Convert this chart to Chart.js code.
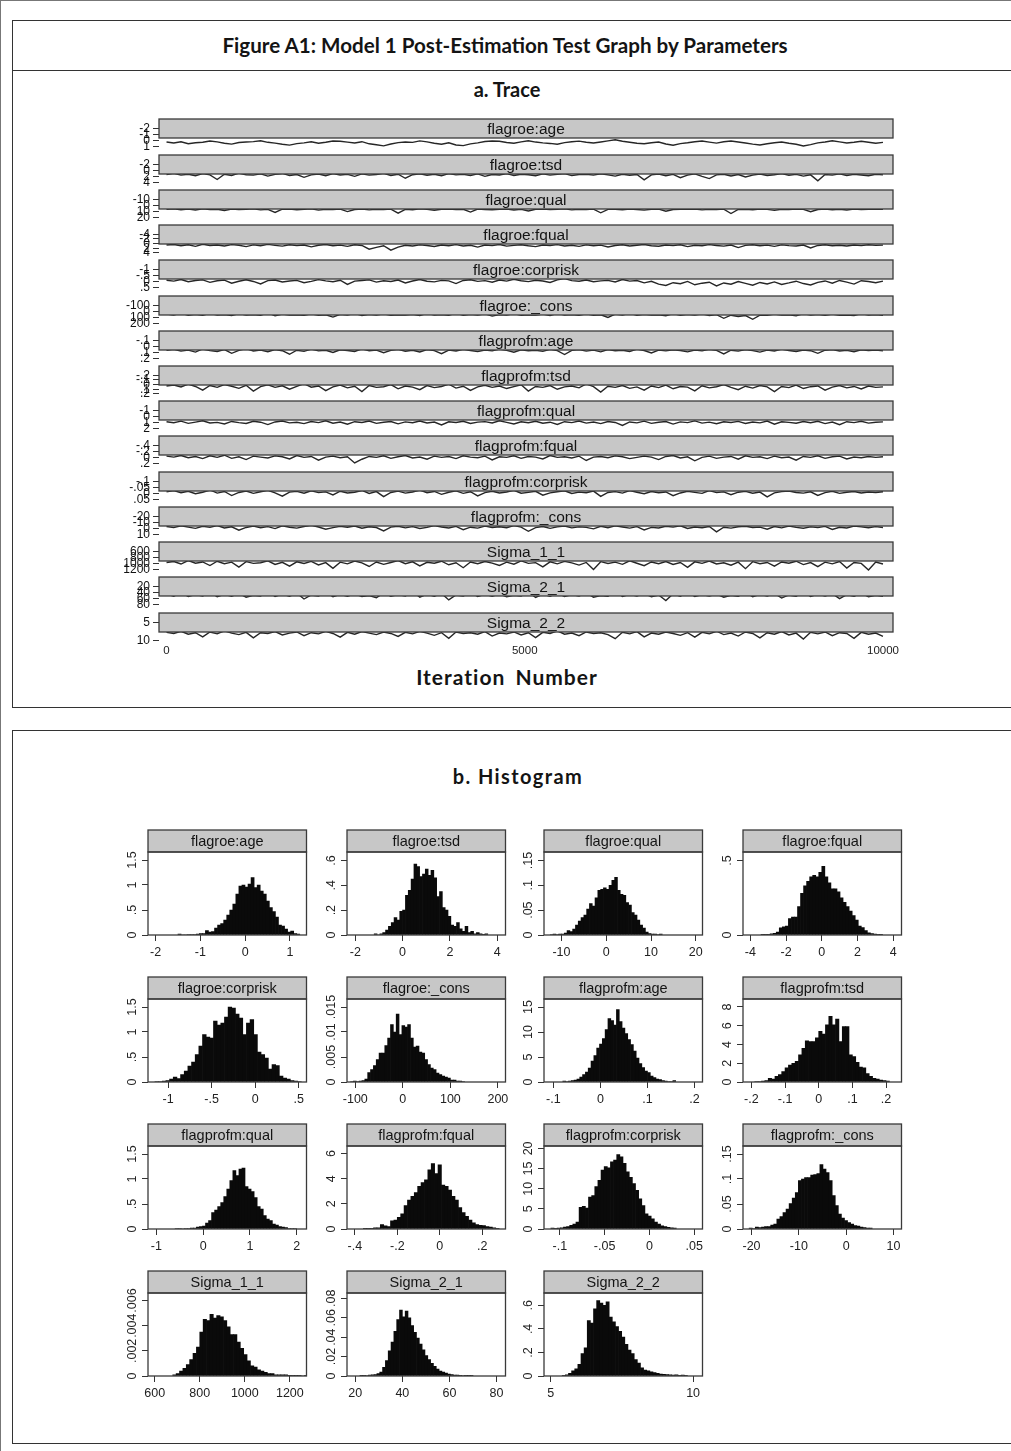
<!DOCTYPE html>
<html>
<head>
<meta charset="utf-8">
<script src="https://cdn.jsdelivr.net/npm/chart.js@4.4.0/dist/chart.umd.min.js"></script>
<style>
  body { margin: 0; background: #fff; width: 1011px; height: 1451px; position: relative; overflow: hidden; }
  canvas { position: absolute; }
  .box { position: absolute; border: 1.5px solid #333; border-right: none; box-sizing: border-box; }
  .rule { position: absolute; border-top: 1.5px solid #333; }
  .t { position: absolute; left: 0; width: 1010px; text-align: center; font-family: Lato, "Open Sans", sans-serif; font-weight: 700; color: #141414; line-height: 1; white-space: nowrap; }
</style>
</head>
<body>
<div class="box" style="left:0;top:0;width:1011px;height:1451px;border-width:1px;border-bottom:none;border-color:#777"></div>
<div class="box" style="left:12px;top:20px;width:1000px;height:688px"></div>
<div class="rule" style="left:12px;top:70px;width:1000px"></div>
<div class="box" style="left:12px;top:730px;width:1000px;height:714px"></div>
<div class="t" style="top:35px;font-size:20.6px">Figure A1: Model 1 Post-Estimation Test Graph by Parameters</div>
<div class="t" style="top:79px;font-size:20px;left:2px">a. Trace</div>
<div class="t" style="top:666px;font-size:21px;left:2px;letter-spacing:1px;word-spacing:4px">Iteration Number</div>
<div class="t" style="top:766px;font-size:20px;left:13px;letter-spacing:1.4px">b. Histogram</div>
<script>
// parameter names, same order in both panels
const paramNames = ['flagroe:age', 'flagroe:tsd', 'flagroe:qual', 'flagroe:fqual', 'flagroe:corprisk', 'flagroe:_cons',
  'flagprofm:age', 'flagprofm:tsd', 'flagprofm:qual', 'flagprofm:fqual', 'flagprofm:corprisk', 'flagprofm:_cons',
  'Sigma_1_1', 'Sigma_2_1', 'Sigma_2_2'];

// ---- trace panel: thinned draws (part of each chain sits behind the strip header) ----
const traceFlagroeAge = [0.21,0.38,0.17,0.49,0.33,0.24,0.06,0.19,0.41,0.55,0.3,0.22,0.15,0.02,0.26,0.39,0.58,0.71,0.47,0.35,0.18,0.4,0.25,0.05,0.09,0.23,0.37,0.16,0.5,0.66,0.83,0.54,0.31,0.2,0.27,0.03,0.18,0.42,0.57,0.33,0.69,0.8,0.52,0.36,0.14,0.04,0.1,0.28,0.4,0.19,0.0,0.22,0.35,0.44,0.56,0.31,0.17,0.07,0.24,0.38,0.2,0.03,-0.15,0.08,0.25,0.42,0.5,0.33,0.21,0.53,0.72,0.48,0.34,0.16,0.05,0.23,0.39,0.18,0.06,0.21,0.37,0.55,0.7,0.49,0.32,0.2,0.41,0.58,0.86,0.64,0.35,0.22,0.02,0.19,0.37,0.26,0.08,0.24,0.4,0.27];
const traceFlagroeTsd = [1.3,0.9,1.5,1.2,1.7,1.0,1.4,2.9,1.2,1.6,0.8,1.35,1.5,1.1,1.8,1.25,0.95,1.6,1.3,2.2,1.4,1.15,1.7,1.0,1.45,1.25,1.9,1.1,1.5,1.3,0.9,1.6,1.2,2.5,1.35,1.05,1.55,1.2,1.7,1.0,1.4,1.25,1.6,1.1,1.9,1.3,1.45,1.0,1.6,1.2,1.35,1.7,1.1,1.5,1.25,1.0,1.65,1.3,1.2,1.5,1.05,1.4,1.8,1.2,1.55,1.3,3.0,1.4,1.15,1.7,1.25,2.3,1.5,1.1,1.9,2.6,1.4,1.2,1.75,1.3,2.1,1.5,1.15,1.6,1.35,1.0,1.55,1.25,1.8,1.4,3.3,1.3,1.5,1.1,1.6,1.25,1.45,1.7,1.2,1.4];
const traceFlagroeQual = [6.2,5.2,6.8,5.9,7.3,5.5,6.4,6.0,8.1,5.8,6.6,6.1,5.4,7.0,6.3,11.2,6.0,5.7,6.9,6.2,5.3,7.5,6.1,6.6,5.9,9.8,6.4,5.6,7.1,6.0,6.5,5.8,12.4,6.2,6.8,5.5,6.3,7.6,6.0,5.9,6.7,6.1,10.6,5.7,6.4,6.9,6.0,5.6,7.2,6.3,8.8,6.0,5.8,6.6,6.2,5.4,7.0,6.1,6.5,5.9,11.8,6.3,6.0,6.8,5.7,6.4,7.4,6.1,5.8,9.2,6.5,6.0,6.3,5.6,7.1,6.2,6.7,5.9,13.0,6.4,6.0,6.9,5.8,6.3,7.8,6.1,6.6,5.7,6.2,10.1,6.4,5.9,6.8,6.0,7.2,5.8,6.5,6.2,6.0,6.3];
const traceFlagroeFqual = [0.6,0.4,0.9,0.5,1.2,0.3,0.8,0.6,1.0,0.45,0.7,1.3,0.55,0.9,0.35,0.75,1.1,0.5,0.85,0.6,1.4,0.7,0.4,0.95,0.65,1.2,0.5,0.8,2.4,1.6,0.9,2.8,1.5,0.7,1.0,0.55,0.8,1.25,0.6,0.9,0.45,1.05,0.7,1.5,0.6,0.85,0.4,1.1,0.75,0.5,0.95,1.3,0.6,0.8,0.45,1.0,0.7,1.2,0.55,0.9,0.65,1.45,0.8,0.5,1.0,0.7,0.4,0.9,1.15,0.6,0.85,0.5,1.3,0.7,0.95,0.45,0.8,1.1,0.6,1.7,0.75,0.5,0.9,0.65,1.2,0.55,0.85,1.0,0.6,1.9,0.8,0.5,0.95,0.7,1.05,0.6,0.85,0.5,0.75,0.65];
const traceFlagroeCorprisk = [-0.12,-0.05,-0.18,0.0,-0.1,-0.15,0.05,-0.08,-0.13,0.12,-0.04,-0.16,-0.02,0.18,-0.09,-0.14,0.02,-0.06,-0.11,0.08,-0.03,-0.17,-0.07,0.0,-0.12,0.22,-0.05,-0.1,-0.15,0.03,-0.08,-0.02,-0.13,0.1,-0.06,-0.18,-0.04,0.01,-0.11,-0.07,0.15,-0.1,-0.16,-0.03,-0.09,0.04,-0.13,-0.05,-0.2,-0.08,-0.01,-0.12,-0.06,0.06,-0.15,-0.25,-0.09,-0.04,-0.14,0.0,-0.07,-0.11,0.02,-0.17,-0.05,-0.1,0.09,-0.03,0.2,0.3,0.08,0.16,-0.02,0.25,0.12,0.04,0.34,0.1,0.2,-0.01,0.14,0.28,0.06,0.18,0.02,0.22,0.1,-0.04,0.15,0.26,0.05,-0.06,0.12,-0.1,0.03,0.19,-0.08,-0.02,0.08,-0.05];
const traceFlagroeCons = [40,58,25,62,45,60,30,59,50,66,35,57,48,61,20,70,42,58,55,63,38,60,52,90,45,59,28,64,47,57,36,61,53,58,44,67,31,59,49,62,26,60,46,58,39,74,50,57,33,61,55,59,41,66,29,58,48,63,37,60,52,95,43,57,30,62,47,59,55,68,34,60,45,58,38,64,51,110,60,80,66,125,58,62,40,59,53,71,35,58,47,61,42,60,56,65,32,59,50,62];
const traceFlagprofmAge = [0.06,0.045,0.075,0.058,0.09,0.04,0.066,0.08,0.05,0.11,0.062,0.035,0.072,0.059,0.085,0.048,0.068,0.125,0.06,0.078,0.042,0.07,0.061,0.095,0.052,0.065,0.08,0.038,0.069,0.058,0.1,0.063,0.047,0.077,0.06,0.088,0.05,0.067,0.115,0.059,0.073,0.044,0.064,0.082,0.057,0.07,0.04,0.063,0.092,0.055,0.068,0.06,0.078,0.045,0.066,0.13,0.062,0.05,0.074,0.059,0.087,0.048,0.069,0.061,0.08,0.043,0.065,0.105,0.058,0.071,0.052,0.064,0.086,0.057,0.07,0.046,0.062,0.12,0.06,0.075,0.05,0.066,0.09,0.058,0.072,0.041,0.064,0.081,0.056,0.068,0.11,0.06,0.049,0.073,0.062,0.085,0.053,0.067,0.059,0.07];
const traceFlagprofmTsd = [0.03,0.01,0.05,-0.01,0.04,0.12,0.02,0.06,0.0,0.035,0.08,0.015,0.14,0.045,0.005,0.06,0.025,0.1,0.04,-0.02,0.055,0.03,0.13,0.05,0.01,0.07,0.035,0.15,0.02,0.06,0.045,0.0,0.09,0.03,0.055,0.11,0.02,0.065,0.04,-0.01,0.075,0.035,0.125,0.05,0.015,0.06,0.03,0.085,0.045,0.005,0.14,0.04,0.06,0.02,0.1,0.05,0.03,0.07,-0.015,0.045,0.16,0.035,0.06,0.02,0.08,0.05,0.12,0.03,0.065,0.01,0.09,0.04,0.055,0.135,0.025,0.07,0.045,0.0,0.06,0.11,0.035,0.075,0.02,0.05,0.15,0.04,0.065,0.01,0.085,0.045,0.03,0.12,0.055,0.02,0.07,0.04,0.095,0.03,0.06,0.05];
const traceFlagprofmQual = [0.85,1.0,0.75,1.1,0.9,0.7,1.05,0.95,1.2,0.8,0.98,1.12,0.76,0.92,1.3,0.88,0.72,1.02,0.94,1.15,0.82,0.99,0.7,1.08,0.9,1.25,0.84,0.96,0.74,1.1,0.93,0.8,1.18,0.87,1.0,0.72,1.05,0.9,1.35,0.85,0.97,0.78,1.12,0.91,0.83,1.04,0.68,0.95,1.2,0.86,1.0,0.77,1.09,0.92,1.28,0.84,0.98,0.73,1.06,0.9,1.15,0.8,0.96,1.45,0.88,1.02,0.75,1.1,0.93,0.82,1.22,0.87,0.99,0.71,1.07,0.91,1.17,0.85,0.97,0.79,1.13,0.89,1.03,0.74,1.24,0.86,0.95,1.08,0.81,1.0,0.76,1.15,0.9,1.32,0.84,0.98,0.78,1.06,0.92,0.87];
const traceFlagprofmFqual = [-0.05,-0.02,-0.07,0.0,-0.04,0.03,-0.06,-0.01,-0.08,0.02,-0.03,0.06,-0.05,-0.02,0.01,-0.06,-0.03,0.04,-0.07,-0.01,-0.04,0.08,-0.02,-0.05,0.0,-0.03,0.17,0.05,-0.04,-0.01,-0.06,0.02,-0.03,-0.07,0.01,-0.02,0.05,-0.05,-0.01,-0.04,0.03,-0.06,-0.02,0.0,-0.05,0.07,-0.03,-0.01,-0.06,0.02,-0.04,-0.02,0.04,-0.07,-0.01,-0.03,0.01,-0.05,0.09,-0.02,-0.04,0.0,-0.06,-0.03,0.03,-0.01,-0.05,-0.02,0.06,-0.04,-0.07,0.01,-0.03,0.1,-0.01,-0.05,0.02,-0.02,-0.04,0.05,-0.06,-0.01,-0.03,0.03,-0.05,0.0,-0.02,0.08,-0.04,-0.01,-0.06,0.02,-0.03,-0.05,0.04,-0.02,0.0,-0.04,-0.01,-0.03];
const traceFlagprofmCorprisk = [-0.015,-0.025,-0.008,-0.02,0.0,-0.012,-0.03,-0.005,-0.018,0.015,-0.01,-0.022,-0.003,-0.016,-0.028,-0.007,0.02,-0.013,-0.019,-0.004,-0.024,-0.009,-0.015,0.01,-0.02,-0.006,-0.012,-0.026,-0.002,-0.017,0.024,-0.01,-0.021,-0.005,-0.014,-0.03,-0.008,-0.018,0.005,-0.012,-0.023,-0.003,-0.016,0.018,-0.009,-0.02,-0.006,-0.014,-0.027,-0.004,-0.011,-0.019,0.012,-0.007,-0.016,-0.024,-0.002,-0.013,-0.008,-0.021,0.022,-0.01,-0.017,-0.005,-0.025,-0.012,0.0,-0.018,-0.008,-0.014,0.016,-0.006,-0.02,-0.011,-0.003,-0.026,-0.009,-0.015,0.008,-0.012,-0.019,-0.004,-0.013,0.026,-0.007,-0.017,-0.022,-0.01,-0.005,-0.015,0.014,-0.009,-0.02,-0.003,-0.012,-0.018,-0.006,-0.014,-0.01,-0.016];
const traceFlagprofmCons = [-3.5,-1.8,-4.8,-2.6,-0.5,-3.9,-2.2,-5.2,-1.2,-3.0,2.5,-2.0,-4.1,-1.5,-3.3,-0.2,-4.6,-2.4,-1.0,-3.6,-5.5,-2.8,0.8,-1.7,-3.8,-2.3,-4.4,-0.8,-3.1,-1.9,3.5,-2.6,-4.0,-1.3,-3.4,-0.4,-2.1,-4.9,-2.7,-1.1,-3.7,1.6,-2.4,-0.9,-4.2,-2.0,-3.2,-1.5,-5.0,-2.5,4.2,-1.8,-3.6,-0.6,-2.9,-4.3,-1.4,-3.0,-2.2,0.3,-3.8,-1.6,-4.5,-2.7,-0.9,-3.3,2.0,-2.1,-1.2,-3.9,-2.5,-4.7,-0.3,-2.8,-1.6,-3.5,5.0,-2.3,-1.0,-3.1,-4.0,-1.9,-2.6,0.9,-3.4,-1.3,-4.4,-2.2,-0.7,-3.0,-1.7,-3.7,1.2,-2.4,-1.1,-4.1,-2.9,-1.5,-3.3,-2.0];
const traceSigma11 = [960,930,1010,900,985,945,1060,920,1000,950,1110,935,990,970,905,1025,955,1080,940,995,925,1040,965,1150,950,1005,915,975,1090,945,1020,960,900,1000,940,1070,955,985,920,1035,970,1130,945,1000,930,980,1055,950,1015,910,990,965,1100,940,1005,925,975,1045,960,1185,935,995,950,1020,905,985,1065,945,1000,930,1025,960,1120,940,990,915,1010,970,1050,950,1160,935,1000,960,1080,945,985,920,1030,965,1095,950,1005,930,1140,960,990,1200,945,1010];
const traceSigma21 = [44,52,40,53,47,51,38,54,46,52,43,55,49,51,36,53,45,52,42,61,48,51,39,54,46,52,44,53,50,57,41,52,47,51,37,55,45,52,43,64,48,51,40,53,46,52,44,54,49,51,38,56,45,52,42,53,47,51,41,55,50,52,36,53,46,51,43,54,48,66,44,52,39,53,47,51,45,55,49,52,40,54,46,51,43,58,48,52,37,53,45,51,44,60,47,52,42,54,49,52];
const traceSigma22 = [7.7,8.0,7.4,8.2,7.8,8.9,7.6,8.1,7.3,7.9,8.3,7.7,9.2,7.8,8.0,7.5,8.4,7.9,7.6,8.6,7.8,8.1,7.4,8.0,9.0,7.7,8.2,7.5,7.9,8.3,7.6,8.0,8.8,7.7,8.1,7.4,7.9,8.5,7.8,9.3,7.6,8.0,7.8,8.2,7.5,8.7,7.9,8.1,7.6,8.4,7.8,9.1,7.7,8.0,7.3,8.2,7.9,8.6,7.6,8.0,7.8,8.3,9.4,7.7,8.1,7.5,8.9,7.9,8.2,7.6,8.0,8.5,7.8,9.0,7.7,8.1,7.4,8.3,7.9,8.7,7.6,8.0,9.2,7.8,8.2,7.5,8.4,7.9,9.5,7.7,8.1,7.6,8.6,7.8,8.0,9.3,7.7,8.2,7.9,8.8];
const traceSeries = [traceFlagroeAge, traceFlagroeTsd, traceFlagroeQual, traceFlagroeFqual, traceFlagroeCorprisk, traceFlagroeCons,
  traceFlagprofmAge, traceFlagprofmTsd, traceFlagprofmQual, traceFlagprofmFqual, traceFlagprofmCorprisk, traceFlagprofmCons,
  traceSigma11, traceSigma21, traceSigma22];
const traceTicks = [[-2,-1,0,1], [-2,0,2,4], [-10,0,10,20], [-4,-2,0,2,4], [-1,-0.5,0,0.5], [-100,0,100,200],
  [-0.1,0,0.1,0.2], [-0.2,-0.1,0,0.1,0.2], [-1,0,1,2], [-0.4,-0.2,0,0.2], [-0.1,-0.05,0,0.05], [-20,-10,0,10],
  [600,800,1000,1200], [20,40,60,80], [5,10]];
const traceIterations = 10000;
const traceXTicks = [0, 5000, 10000];

// ---- histogram panel: bin start, bin width, densities ----
const histStart = [-1.5, -1.2, -12.5, -3.4, -1.15, -110, -0.08, -0.19, -0.6, -0.36, -0.11, -20.5, 680, 22, 5.4];
const histWidth = [0.068, 0.12, 0.625, 0.17, 0.042, 6, 0.006, 0.01, 0.065, 0.016, 0.0035, 0.65, 15, 1.2, 0.11];
const densFlagroeAge = [0.02,0,0,0.01,0.01,0.01,0.02,0.03,0.03,0.09,0.06,0.07,0.14,0.2,0.23,0.3,0.4,0.5,0.62,0.82,0.98,1.0,0.96,1.02,1.15,0.95,1.0,0.88,0.82,0.68,0.55,0.47,0.36,0.2,0.18,0.12,0.06,0.08,0.03,0.02];
const densFlagroeTsd = [0.01,0,0.01,0.02,0.04,0.07,0.1,0.14,0.12,0.19,0.2,0.32,0.36,0.45,0.57,0.55,0.47,0.49,0.53,0.48,0.52,0.46,0.31,0.35,0.22,0.2,0.15,0.08,0.07,0.1,0.05,0.03,0.07,0.02,0.03,0.01,0.02,0.01,0.005,0.01];
const densFlagroeQual = [0.001,0.002,0.001,0.002,0.002,0.004,0.009,0.007,0.012,0.02,0.028,0.035,0.04,0.052,0.063,0.058,0.075,0.09,0.092,0.095,0.092,0.1,0.11,0.116,0.09,0.082,0.08,0.065,0.06,0.045,0.04,0.03,0.02,0.014,0.006,0.003,0.002,0.002,0.001,0.002];
const densFlagroeFqual = [0.003,0.005,0.003,0.008,0.012,0.02,0.048,0.055,0.06,0.11,0.12,0.12,0.19,0.28,0.33,0.36,0.39,0.4,0.39,0.42,0.46,0.39,0.35,0.31,0.31,0.29,0.25,0.22,0.19,0.16,0.13,0.1,0.06,0.05,0.03,0.015,0.01,0.006,0.004,0.003];
const densFlagroeCorprisk = [0.01,0.01,0.02,0.03,0.06,0.1,0.07,0.15,0.22,0.32,0.4,0.55,0.72,0.95,0.9,0.88,1.22,1.14,1.18,1.3,1.5,1.48,1.36,1.28,0.95,1.18,1.25,0.95,0.6,0.55,0.48,0.26,0.35,0.33,0.12,0.08,0.06,0.03,0.02,0.01];
const densFlagroeCons = [0.0001,0.0002,0.0001,0.0002,0.0003,0.0006,0.0019,0.0025,0.0033,0.0045,0.0058,0.0058,0.0073,0.0088,0.0115,0.01,0.0136,0.0095,0.0113,0.011,0.0115,0.0088,0.007,0.0072,0.006,0.0058,0.0045,0.0035,0.0028,0.0025,0.0018,0.0015,0.0012,0.001,0.0008,0.0004,0.0004,0.0002,0.0002,0.0001];
const densFlagprofmAge = [0.2,0.1,0.2,0.3,0.4,0.6,1.0,1.5,2.0,2.8,4.2,5.3,6.8,7.6,8.7,10.5,12.7,12.3,11.4,14.5,12.1,10.8,9.7,8.5,7.5,6.2,4.8,3.7,2.9,2.2,1.9,1.2,0.9,0.6,0.5,0.3,0.2,0.1,0.1,0.3];
const densFlagprofmTsd = [0.05,0.05,0.1,0.15,0.4,0.3,0.6,0.8,1.1,1.5,1.8,2.0,2.2,2.9,3.6,4.4,4.3,4.3,4.7,5.4,5.1,6.1,7.0,6.1,6.7,4.3,5.9,5.9,2.9,2.7,2.1,1.6,1.5,0.9,0.6,0.4,0.3,0.2,0.15,0.1];
const densFlagprofmQual = [0.01,0.01,0,0.01,0.01,0.02,0.02,0.04,0.05,0.06,0.12,0.17,0.33,0.38,0.45,0.53,0.65,0.8,0.97,1.17,1.07,1.2,1.22,0.85,0.8,0.75,0.63,0.45,0.4,0.27,0.2,0.17,0.1,0.08,0.05,0.04,0.03,0.01,0.01,0.01];
const densFlagprofmFqual = [0.03,0.03,0.05,0.1,0.1,0.35,0.25,0.2,0.65,0.7,0.93,1.2,1.87,2.3,2.6,2.9,3.4,3.7,3.9,4.7,5.2,4.4,5.1,3.5,3.4,3.1,2.6,2.3,1.7,1.3,1.0,0.7,0.5,0.35,0.3,0.27,0.2,0.15,0.1,0.05];
const densFlagprofmCorprisk = [0.2,0.1,0.2,0.3,0.5,0.6,0.9,1.2,1.7,5.4,5.6,5.2,7.9,8.3,10.5,12.1,14.6,15.5,15.2,16.7,17.1,18.5,17.9,16.3,14.2,12.8,11.3,9.6,7.5,5.8,3.75,3.2,2.5,1.7,1.2,0.8,0.6,0.4,0.3,0.2];
const densFlagprofmCons = [0.002,0.001,0.004,0.003,0.004,0.005,0.005,0.008,0.01,0.02,0.025,0.033,0.04,0.051,0.062,0.073,0.097,0.1,0.103,0.103,0.108,0.109,0.111,0.129,0.12,0.113,0.097,0.067,0.047,0.03,0.022,0.017,0.013,0.01,0.007,0.006,0.004,0.003,0.002,0.002];
const densSigma11 = [0.0001,0.0002,0.0004,0.0006,0.0009,0.0013,0.0018,0.0023,0.0035,0.0045,0.0044,0.0049,0.0046,0.0048,0.0047,0.0044,0.0039,0.0033,0.0033,0.0027,0.0022,0.0017,0.0012,0.0008,0.0007,0.0005,0.0004,0.0003,0.0002,0.0002,0.0001,0.0001,0.0001,0.0001,0.00005,0.00005,0.00005,0.00005,0,0.00005];
const densSigma21 = [0.0003,0.0002,0.0005,0.001,0.0012,0.0015,0.0025,0.004,0.009,0.016,0.026,0.035,0.046,0.058,0.068,0.061,0.067,0.06,0.052,0.045,0.039,0.033,0.027,0.021,0.017,0.013,0.01,0.007,0.005,0.004,0.003,0.002,0.0015,0.001,0.001,0.0008,0.0005,0.0004,0.0003,0.0002];
const densSigma22 = [0.005,0.01,0.023,0.043,0.06,0.1,0.19,0.24,0.47,0.45,0.57,0.64,0.62,0.6,0.63,0.5,0.46,0.42,0.38,0.33,0.27,0.22,0.19,0.14,0.11,0.07,0.05,0.043,0.035,0.03,0.022,0.017,0.015,0.012,0.01,0.008,0.01,0.006,0.008,0.005];
const histDensity = [densFlagroeAge, densFlagroeTsd, densFlagroeQual, densFlagroeFqual, densFlagroeCorprisk, densFlagroeCons,
  densFlagprofmAge, densFlagprofmTsd, densFlagprofmQual, densFlagprofmFqual, densFlagprofmCorprisk, densFlagprofmCons,
  densSigma11, densSigma21, densSigma22];
const histXMin = [-2.17, -2.35, -13.9, -4.41, -1.23, -117.5, -0.12, -0.225, -1.18, -0.437, -0.1177, -21.8, 570, 16.5, 4.76];
const histXMax = [1.37, 4.35, 21.5, 4.46, 0.59, 216, 0.217, 0.246, 2.21, 0.31, 0.0593, 11.7, 1274, 83.8, 10.33];
const histYMax = [1.66, 0.668, 0.167, 0.557, 1.66, 0.0166, 16.6, 8.85, 1.66, 6.6, 20.6, 0.166, 0.0066, 0.0855, 0.705];
const histXTicks = [[-2,-1,0,1], [-2,0,2,4], [-10,0,10,20], [-4,-2,0,2,4], [-1,-0.5,0,0.5], [-100,0,100,200],
  [-0.1,0,0.1,0.2], [-0.2,-0.1,0,0.1,0.2], [-1,0,1,2], [-0.4,-0.2,0,0.2], [-0.1,-0.05,0,0.05], [-20,-10,0,10],
  [600,800,1000,1200], [20,40,60,80], [5,10]];
const histYTicks = [[0,0.5,1,1.5], [0,0.2,0.4,0.6], [0,0.05,0.1,0.15], [0,0.5], [0,0.5,1,1.5], [0,0.005,0.01,0.015],
  [0,5,10,15], [0,2,4,6,8], [0,0.5,1,1.5], [0,2,4,6], [0,5,10,15,20], [0,0.05,0.1,0.15],
  [0,0.002,0.004,0.006], [0,0.02,0.04,0.06,0.08], [0,0.2,0.4,0.6]];

// layout
const traceTop0 = 119.3, tracePitch = 35.24;
const colLefts = [148, 347, 544, 743];
const rowTops = [830, 977, 1124, 1271];
const labelFont = '"Liberation Sans", Arial, Helvetica, sans-serif';

Chart.defaults.font.family = labelFont;
Chart.defaults.color = '#222';
Chart.defaults.animation = false;

// Stata style: .5 instead of 0.5
const fmtTick = v => String(v).replace(/^(-?)0\./, '$1.');

// keep axis boxes at a fixed size and stop label overhang from shrinking the plot
const fixSize = (w, h) => s => {
    if (w !== null) s.width = w;
    if (h !== null) s.height = h;
    s.paddingTop = 0; s.paddingBottom = 0; s.paddingLeft = 0; s.paddingRight = 0;
};

function addCanvas(left, top, w, h) {
    const c = document.createElement('canvas');
    c.width = w; c.height = h;
    c.style.left = left + 'px'; c.style.top = top + 'px';
    c.style.width = w + 'px'; c.style.height = h + 'px';
    document.body.appendChild(c);
    return c;
}

// grey strip header, plot box and rotated y labels
const panelDecor = {
    id: 'panelDecor',
    afterDatasetsDraw(chart, args, opts) {
        const { ctx, chartArea: a } = chart;
        const w = a.right - a.left;
        const top = opts.trace ? a.top : a.top - opts.headerH;
        ctx.save();
        ctx.fillStyle = '#c7c7c7';
        ctx.fillRect(a.left, top, w, opts.headerH);
        ctx.strokeStyle = '#3a3a3a';
        ctx.lineWidth = 1.3;
        ctx.strokeRect(a.left, top, w, opts.headerH);
        if (!opts.trace) ctx.strokeRect(a.left, a.top, w, a.bottom - a.top);
        ctx.fillStyle = '#141414';
        ctx.font = opts.titleFont;
        ctx.textAlign = 'center';
        ctx.textBaseline = 'middle';
        ctx.fillText(opts.title, a.left + w / 2, top + opts.headerH / 2 + 1);
        if (opts.yTicks) {
            const ys = chart.scales.y;
            ctx.font = '12.5px ' + labelFont;
            ctx.fillStyle = '#222';
            opts.yTicks.forEach(v => {
                ctx.save();
                ctx.translate(a.left - 15, ys.getPixelForValue(v));
                ctx.rotate(-Math.PI / 2);
                ctx.fillText(fmtTick(v), 0, 0);
                ctx.restore();
            });
        }
        ctx.restore();
    }
};

function drawTrace(k) {
    const last = k === traceSeries.length - 1;
    const stripTop = Math.round(traceTop0 + k * tracePitch);
    const canvas = addCanvas(90, stripTop - 1, 816, last ? 50 : 37);
    const vals = traceSeries[k];
    const thin = traceIterations / (vals.length - 1);
    const ticks = traceTicks[k];
    const span = (ticks[ticks.length - 1] - ticks[0]) / 0.6;
    const yMin = ticks[0] - 0.3 * span;
    new Chart(canvas, {
        type: 'line',
        data: { datasets: [{ data: vals.map((v, i) => ({ x: i * thin, y: v })), borderColor: '#262626', borderWidth: 1.4, pointRadius: 0, tension: 0 }] },
        options: {
            responsive: false, animation: false,
            layout: { padding: { top: 1, right: 13, left: 0, bottom: last ? 0 : 5 } },
            plugins: { legend: { display: false }, tooltip: { enabled: false },
                panelDecor: { title: paramNames[k], headerH: 19, trace: true, titleFont: '15.5px ' + labelFont } },
            scales: {
                x: { type: 'linear', min: -105, max: 10140, display: last,
                    afterBuildTicks: s => { s.ticks = traceXTicks.map(v => ({ value: v })); },
                    afterFit: fixSize(null, last ? 18 : 0),
                    ticks: { callback: v => String(v), font: { size: 11.5 }, padding: 0, maxRotation: 0, autoSkip: false },
                    grid: { display: false, drawTicks: false }, border: { display: false } },
                y: { reverse: true, min: yMin, max: yMin + span,
                    afterBuildTicks: s => { s.ticks = ticks.map(v => ({ value: v })); },
                    afterFit: fixSize(69, null),
                    ticks: { callback: v => fmtTick(v), font: { size: 12 }, color: '#111', padding: 3, autoSkip: false },
                    grid: { drawOnChartArea: false, tickLength: 6, color: '#333' }, border: { display: false } }
            }
        },
        plugins: [panelDecor]
    });
}

function drawHistogram(k) {
    const col = k % 4, row = Math.floor(k / 4);
    const canvas = addCanvas(colLefts[col] - 40, rowTops[row] - 2, 202, 137);
    const pts = histDensity[k].map((d, i) => ({ x: histStart[k] + (i + 0.5) * histWidth[k], y: d }));
    new Chart(canvas, {
        type: 'bar',
        data: { datasets: [{ data: pts, backgroundColor: '#0a0a0a', borderWidth: 0, barPercentage: 1, categoryPercentage: 1 }] },
        options: {
            responsive: false, animation: false,
            layout: { padding: { top: 24, right: 3.5, left: 0, bottom: 0 } },
            plugins: { legend: { display: false }, tooltip: { enabled: false },
                panelDecor: { title: paramNames[k], headerH: 22, trace: false, titleFont: '14.5px ' + labelFont, yTicks: histYTicks[k] } },
            scales: {
                x: { type: 'linear', min: histXMin[k], max: histXMax[k], offset: false,
                    afterBuildTicks: s => { s.ticks = histXTicks[k].map(v => ({ value: v })); },
                    afterFit: fixSize(null, 30),
                    ticks: { callback: v => fmtTick(v), font: { size: 12.5 }, padding: 4, maxRotation: 0, autoSkip: false },
                    grid: { drawOnChartArea: false, tickLength: 6, color: '#333', offset: false }, border: { display: false } },
                y: { min: 0, max: histYMax[k],
                    afterBuildTicks: s => { s.ticks = histYTicks[k].map(v => ({ value: v })); },
                    afterFit: fixSize(40, null),
                    ticks: { display: false },
                    grid: { drawOnChartArea: false, tickLength: 6, color: '#333' }, border: { display: false } }
            }
        },
        plugins: [panelDecor]
    });
}

paramNames.forEach((_, k) => drawTrace(k));
paramNames.forEach((_, k) => drawHistogram(k));
</script>
</body>
</html>
